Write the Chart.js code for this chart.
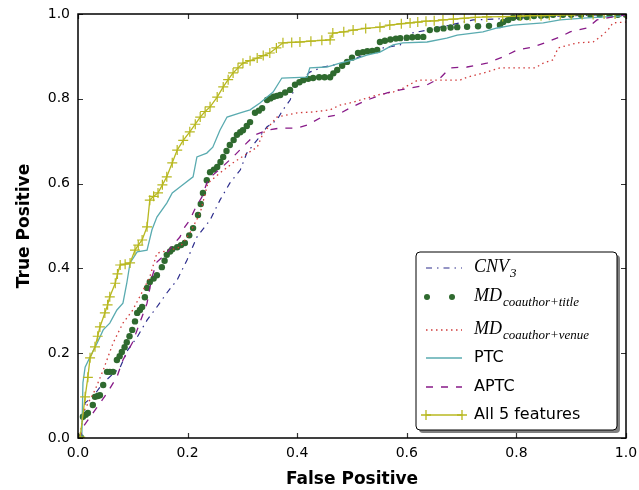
<!DOCTYPE html>
<html>
<head>
<meta charset="utf-8">
<script src="https://cdn.jsdelivr.net/npm/chart.js@4.4.1/dist/chart.umd.min.js"></script>
<style>
  html, body { margin: 0; padding: 0; background: #fff; }
</style>
</head>
<body>
<canvas id="roc" width="639" height="490"></canvas>
<script>
// ROC curves
var fpCNV = [0, .004, .013, .027, .046, .077, .091, .108, .126, .144, .162, .181, .199, .217, .241, .259, .277, .296, .308, .327, .345, .363, .374, .387, .396, .423, .447, .484, .509, .527, .557, .588, .609, .637, .721, .880, 1];
var tpCNV = [0, .002, .083, .097, .130, .167, .208, .238, .278, .309, .342, .373, .420, .474, .514, .561, .601, .632, .672, .703, .734, .750, .774, .797, .828, .863, .875, .884, .896, .908, .920, .927, .955, .962, .986, .995, 1];

var fpTitle = [.005, .009, .014, .018, .027, .031, .036, .040, .046, .053, .058, .064, .071, .076, .080, .085, .089, .094, .099, .104, .108, .113, .117, .122, .126, .131, .138, .144, .153, .158, .162, .168, .172, .181, .188, .195, .203, .210, .219, .224, .228, .235, .241, .248, .254, .260, .265, .271, .277, .284, .290, .296, .301, .308, .314, .323, .330, .336, .345, .351, .357, .363, .369, .378, .387, .396, .404, .411, .420, .429, .440, .450, .460, .466, .473, .482, .491, .500, .511, .520, .528, .537, .546, .551, .560, .570, .580, .588, .600, .610, .620, .630, .642, .655, .667, .680, .692, .710, .730, .750, .770, .776, .785, .794, .806, .819, .832, .845, .856, .867, .885, .900, .918, .935, .952, .970, .985, 1];
var tpTitle = [.002, .050, .055, .059, .078, .097, .099, .101, .125, .156, .156, .156, .184, .193, .203, .214, .226, .240, .255, .275, .295, .302, .309, .332, .354, .368, .376, .384, .403, .418, .432, .440, .445, .450, .455, .460, .478, .495, .526, .552, .578, .608, .627, .633, .639, .651, .663, .677, .691, .703, .715, .721, .726, .736, .745, .767, .772, .778, .797, .801, .805, .807, .809, .815, .821, .833, .839, .844, .847, .849, .851, .851, .851, .860, .868, .878, .887, .897, .908, .910, .912, .913, .915, .934, .937, .940, .942, .943, .944, .945, .946, .946, .962, .964, .966, .968, .969, .970, .971, .972, .974, .981, .986, .991, .992, .993, .995, .996, .997, .998, .998, .998, .998, .998, .998, .998, .998, .998];

var fpVenue = [0, .004, .009, .031, .046, .064, .082, .100, .119, .131, .144, .168, .186, .204, .223, .237, .259, .283, .310, .327, .338, .363, .400, .429, .460, .478, .502, .515, .546, .575, .593, .620, .697, .710, .746, .770, .834, .849, .867, .876, .911, .940, .953, .967, .976, 1, 1];
var tpVenue = [0, .002, .059, .113, .160, .224, .271, .302, .349, .380, .436, .443, .450, .483, .531, .601, .625, .649, .672, .686, .719, .757, .767, .769, .774, .785, .792, .797, .809, .816, .825, .844, .844, .851, .863, .873, .873, .884, .892, .920, .932, .934, .946, .962, .979, .981, 1];

var fpPTC = [0, .007, .009, .013, .022, .035, .046, .058, .071, .082, .089, .095, .108, .126, .135, .144, .162, .172, .186, .210, .217, .235, .246, .259, .272, .296, .314, .332, .356, .372, .418, .423, .454, .478, .502, .527, .551, .575, .593, .637, .673, .692, .739, .765, .794, .849, .880, .929, .989, 1];
var tpPTC = [0, .002, .130, .167, .191, .224, .255, .271, .302, .318, .365, .413, .439, .443, .491, .521, .554, .578, .592, .616, .663, .672, .686, .726, .757, .767, .774, .790, .816, .849, .851, .873, .875, .884, .892, .903, .910, .927, .932, .934, .943, .950, .958, .967, .974, .979, .986, .991, .995, 1];

var fpAPTC = [0, .004, .009, .018, .035, .053, .071, .082, .099, .108, .126, .135, .144, .162, .173, .186, .195, .204, .214, .226, .235, .246, .263, .286, .308, .323, .345, .369, .400, .418, .442, .473, .496, .527, .564, .588, .637, .661, .679, .710, .746, .776, .801, .830, .856, .880, .898, .929, .947, .976, 1, 1];
var tpAPTC = [0, .002, .026, .042, .073, .106, .144, .184, .224, .255, .318, .380, .415, .436, .455, .474, .498, .514, .542, .568, .601, .620, .639, .667, .696, .715, .726, .731, .731, .738, .755, .762, .778, .797, .814, .821, .833, .849, .873, .875, .884, .899, .915, .922, .934, .946, .958, .967, .986, .993, .998, 1];

var fpAll = [0, .004, .013, .018, .022, .031, .036, .040, .049, .054, .058, .068, .072, .077, .086, .095, .104, .110, .117, .126, .131, .138, .146, .154, .162, .172, .181, .192, .204, .214, .223, .232, .241, .254, .265, .274, .283, .292, .301, .314, .327, .338, .350, .362, .374, .390, .405, .425, .445, .460, .465, .485, .502, .525, .551, .569, .590, .606, .620, .635, .650, .666, .685, .705, .725, .746, .775, .807, .825, .845, .860, .880, .900, .920, .940, .960, .980, 1];
var tpAll = [0, .002, .097, .143, .189, .215, .240, .262, .295, .314, .333, .365, .387, .408, .410, .413, .443, .455, .467, .498, .561, .570, .578, .597, .616, .649, .679, .702, .722, .740, .757, .770, .781, .804, .828, .845, .861, .873, .884, .890, .896, .902, .908, .920, .932, .933, .934, .936, .938, .939, .955, .958, .962, .966, .969, .974, .977, .979, .981, .983, .984, .986, .988, .990, .992, .993, .994, .995, .996, .996, .997, .998, .998, .999, .999, 1, 1, 1];

var seriesNames = ['CNV3', 'MDcoauthor+title', 'MDcoauthor+venue', 'PTC', 'APTC', 'All 5 features'];
var legendMain = ['CNV', 'MD', 'MD', 'PTC', 'APTC', 'All 5 features'];
var legendSub = ['3', 'coauthor+title', 'coauthor+venue', '', '', ''];
var tickValues = [0, 0.2, 0.4, 0.6, 0.8, 1.0];

function pts(xs, ys) {
  return xs.map(function (v, i) { return { x: v, y: ys[i] }; });
}

Chart.defaults.font.family = 'DejaVu Sans';
Chart.defaults.color = '#000';

var styles = [
  { color: '#2c2c8c', dash: [6, 5, 1.5, 5], width: 1.2 },
  { color: '#2f6a2f', dash: [], width: 0 },
  { color: '#d03a3a', dash: [1.5, 3.5], width: 1.3 },
  { color: '#5aabb0', dash: [], width: 1.3 },
  { color: '#881a88', dash: [7, 8], width: 1.3 },
  { color: '#b8b820', dash: [], width: 1.3 }
];
var allData = [pts(fpCNV, tpCNV), pts(fpTitle, tpTitle), pts(fpVenue, tpVenue),
               pts(fpPTC, tpPTC), pts(fpAPTC, tpAPTC), pts(fpAll, tpAll)];

var datasets = allData.map(function (d, i) {
  var s = styles[i];
  return {
    label: seriesNames[i],
    data: d,
    borderColor: s.color,
    backgroundColor: s.color,
    borderWidth: s.width,
    borderDash: s.dash,
    showLine: i !== 1,
    tension: 0,
    pointRadius: i === 1 ? 3.2 : (i === 5 ? 5 : 0),
    pointStyle: i === 5 ? 'cross' : 'circle',
    pointBorderWidth: i === 5 ? 1.2 : 0,
    pointBorderColor: s.color,
    order: 6 - i
  };
});

var framePlugin = {
  id: 'frame',
  afterDatasetsDraw: function (chart) {
    var ctx = chart.ctx, a = chart.chartArea, x = chart.scales.x, y = chart.scales.y;
    ctx.save();
    ctx.strokeStyle = '#333';
    ctx.lineWidth = 1.2;
    tickValues.forEach(function (v) {
      var px = Math.round(x.getPixelForValue(v)) + 0.5;
      var py = Math.round(y.getPixelForValue(v)) + 0.5;
      ctx.beginPath();
      ctx.moveTo(px, a.bottom); ctx.lineTo(px, a.bottom - 5);
      ctx.moveTo(px, a.top); ctx.lineTo(px, a.top + 5);
      ctx.moveTo(a.left, py); ctx.lineTo(a.left + 5, py);
      ctx.moveTo(a.right, py); ctx.lineTo(a.right - 5, py);
      ctx.stroke();
    });
    ctx.strokeStyle = '#000';
    ctx.lineWidth = 1.5;
    ctx.strokeRect(a.left, a.top, a.right - a.left, a.bottom - a.top);
    ctx.restore();
  },
  afterDraw: function (chart) {
    var ctx = chart.ctx;
    var bx = 416, by = 252, bw = 201, bh = 178;
    ctx.save();
    function rr(x0, y0, w, h, r) {
      ctx.beginPath();
      ctx.moveTo(x0 + r, y0);
      ctx.arcTo(x0 + w, y0, x0 + w, y0 + h, r);
      ctx.arcTo(x0 + w, y0 + h, x0, y0 + h, r);
      ctx.arcTo(x0, y0 + h, x0, y0, r);
      ctx.arcTo(x0, y0, x0 + w, y0, r);
      ctx.closePath();
    }
    rr(bx + 3, by + 3, bw, bh, 4);
    ctx.fillStyle = '#808080';
    ctx.fill();
    rr(bx, by, bw, bh, 4);
    ctx.fillStyle = '#fff';
    ctx.fill();
    ctx.strokeStyle = '#000';
    ctx.lineWidth = 1;
    ctx.stroke();

    var rows = [268, 297, 330, 358, 387, 415];
    rows.forEach(function (ry, i) {
      var s = styles[i];
      ctx.strokeStyle = s.color;
      ctx.fillStyle = s.color;
      if (i === 1) {
        [427, 452].forEach(function (cx) {
          ctx.beginPath(); ctx.arc(cx, ry, 3, 0, Math.PI * 2); ctx.fill();
        });
      } else {
        ctx.lineWidth = s.width;
        ctx.setLineDash(s.dash);
        ctx.beginPath(); ctx.moveTo(426, ry); ctx.lineTo(462, ry); ctx.stroke();
        ctx.setLineDash([]);
        if (i === 5) {
          [426, 462].forEach(function (cx) {
            ctx.beginPath();
            ctx.moveTo(cx - 5, ry); ctx.lineTo(cx + 5, ry);
            ctx.moveTo(cx, ry - 5); ctx.lineTo(cx, ry + 5);
            ctx.stroke();
          });
        }
      }
      ctx.fillStyle = '#000';
      ctx.textBaseline = 'middle';
      ctx.textAlign = 'left';
      if (legendSub[i]) {
        ctx.font = 'italic 18px "Liberation Serif"';
        ctx.fillText(legendMain[i], 474, ry - 1);
        var w = ctx.measureText(legendMain[i]).width;
        ctx.font = 'italic 13px "Liberation Serif"';
        ctx.fillText(legendSub[i], 474 + w + 1, ry + 6);
      } else {
        ctx.font = '16px "DejaVu Sans"';
        ctx.fillText(legendMain[i], 474, ry);
      }
    });
    ctx.restore();
  }
};

new Chart(document.getElementById('roc').getContext('2d'), {
  type: 'line',
  data: { datasets: datasets },
  options: {
    responsive: false,
    animation: false,
    layout: { padding: { top: 14, right: 13, left: 0, bottom: 0 } },
    plugins: { legend: { display: false }, tooltip: { enabled: false } },
    scales: {
      x: {
        type: 'linear',
        min: 0, max: 1,
        afterBuildTicks: function (s) { s.ticks = tickValues.map(function (v) { return { value: v }; }); },
        afterFit: function (s) { s.height = 52; s.paddingLeft = 0; s.paddingRight = 0; },
        grid: { display: false, drawTicks: false },
        border: { display: false },
        ticks: {
          padding: 7,
          font: { size: 14 },
          callback: function (v) { return Number(v).toFixed(1); }
        },
        title: { display: true, text: 'False Positive', font: { size: 17, weight: 'bold' }, padding: { top: 0, bottom: 0 } }
      },
      y: {
        type: 'linear',
        min: 0, max: 1,
        afterBuildTicks: function (s) { s.ticks = tickValues.map(function (v) { return { value: v }; }); },
        afterFit: function (s) { s.width = 78; s.paddingTop = 0; s.paddingBottom = 0; },
        grid: { display: false, drawTicks: false },
        border: { display: false },
        ticks: {
          padding: 8,
          font: { size: 14 },
          callback: function (v) { return Number(v).toFixed(1); }
        },
        title: { display: true, text: 'True Positive', font: { size: 17, weight: 'bold' }, padding: { top: 14, bottom: 0 } }
      }
    }
  },
  plugins: [framePlugin]
});
</script>
</body>
</html>
